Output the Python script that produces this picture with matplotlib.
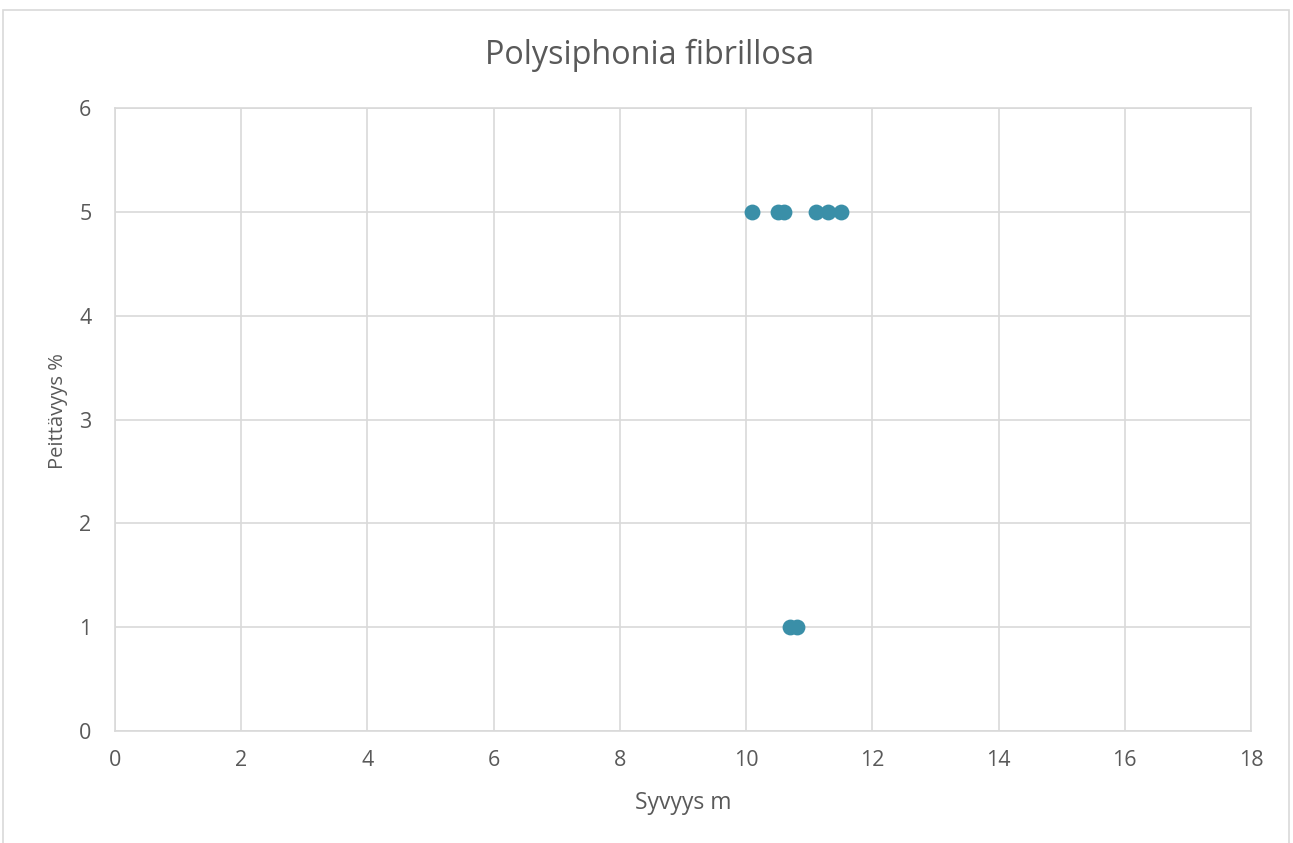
import matplotlib.pyplot as plt
from matplotlib.patches import Rectangle

# data
depth = [10.1, 10.5, 10.6, 11.1, 11.3, 11.5, 10.7, 10.8]
cover = [5, 5, 5, 5, 5, 5, 1, 1]

title = "Polysiphonia fibrillosa"
xlabel = "Syvyys m"
ylabel = "Peittävyys %"

plt.rcParams['font.family'] = ['Open Sans', 'DejaVu Sans']

fig = plt.figure(figsize=(12.93, 8.43), dpi=100)
W, H = 1293, 843
ax = fig.add_axes([115 / W, 1 - 731 / H, (1251 - 115) / W, (731 - 108) / H])

# chart border
fig.patches.append(Rectangle((3 / W, -0.01), (1289 - 3) / W, 1 - 10 / H + 0.01,
                             transform=fig.transFigure, fill=False,
                             edgecolor='#D9D9D9', linewidth=1.2))

ax.scatter(depth, cover, s=130, color='#3A8FA8', zorder=3, linewidths=0)

ax.set_xlim(0, 18)
ax.set_ylim(0, 6)
ax.set_xticks(range(0, 19, 2))
ax.set_yticks(range(0, 7))
ax.grid(True, color='#D9D9D9', linewidth=1.2)
ax.set_axisbelow(True)
for s in ax.spines.values():
    s.set_color('#D9D9D9')
    s.set_linewidth(1.2)
ax.tick_params(length=0, labelsize=15.5, labelcolor='#595959')
ax.tick_params(axis='x', pad=14)
ax.tick_params(axis='y', pad=17)

fig.text(650 / W, 1 - 55 / H, title, fontsize=23.3, color='#595959',
         ha='center', va='center')
fig.text(683 / W, 1 - 803 / H, xlabel, fontsize=16.5, color='#595959',
         ha='center', va='center')
fig.text(58 / W, 1 - 411 / H, ylabel, fontsize=14.5, color='#595959',
         ha='center', va='center', rotation=90)

fig.savefig("out.png", dpi=100)
